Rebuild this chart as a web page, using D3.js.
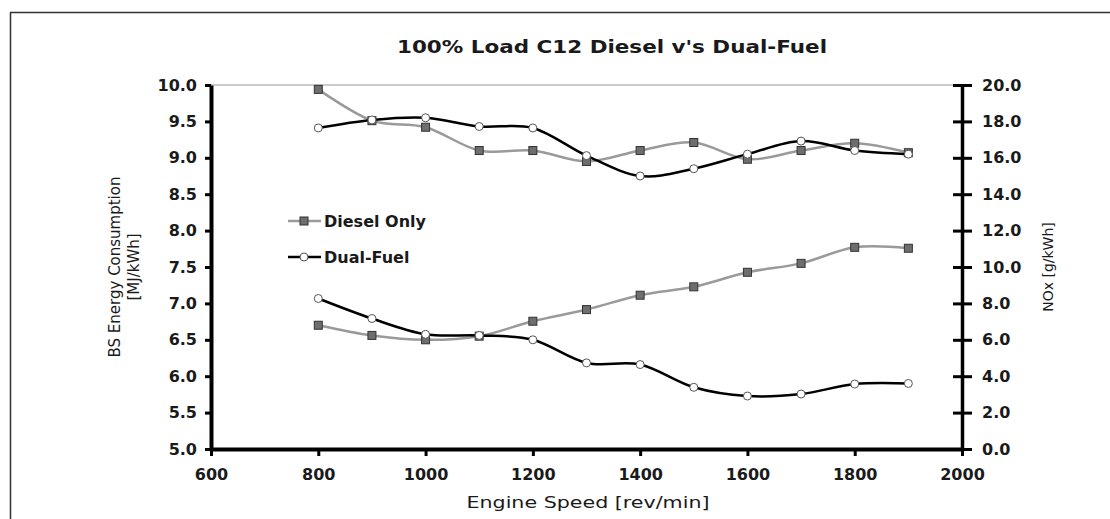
<!DOCTYPE html>
<html>
<head>
<meta charset="utf-8">
<script src="https://cdn.jsdelivr.net/npm/d3@7"></script>
<style>
  html, body { margin: 0; padding: 0; background: #fff; }
  svg { display: block; }
</style>
</head>
<body>
<svg id="chart" width="1110" height="519"></svg>
<script>
// ---- data ----
const speeds = [800, 900, 1000, 1100, 1200, 1300, 1400, 1500, 1600, 1700, 1800, 1900];
const dieselBSEC = [9.94, 9.51, 9.42, 9.10, 9.10, 8.95, 9.10, 9.21, 8.98, 9.10, 9.20, 9.07];
const dualBSEC   = [9.41, 9.52, 9.55, 9.43, 9.41, 9.03, 8.75, 8.85, 9.05, 9.23, 9.10, 9.05];
const dieselNOx  = [6.8, 6.24, 6.0, 6.2, 7.02, 7.66, 8.45, 8.91, 9.71, 10.2, 11.08, 11.03];
const dualNOx    = [8.27, 7.17, 6.30, 6.24, 6.0, 4.73, 4.64, 3.39, 2.91, 3.02, 3.57, 3.6];
const xTicks = [600, 800, 1000, 1200, 1400, 1600, 1800, 2000];
const yLeftTicks = [5.0, 5.5, 6.0, 6.5, 7.0, 7.5, 8.0, 8.5, 9.0, 9.5, 10.0];
const yRightTicks = [0, 2, 4, 6, 8, 10, 12, 14, 16, 18, 20];
const titleText = "100% Load C12 Diesel v's Dual-Fuel";
const xTitle = "Engine Speed [rev/min]";
const yLeftTitle = ["BS Energy Consumption", "[MJ/kWh]"];
const yRightTitle = "NOx [g/kWh]";
const legendLabels = ["Diesel Only", "Dual-Fuel"];

const svg = d3.select("#chart");
const L = 211, R = 962, T = 85, B = 449;
const x = d3.scaleLinear().domain([600, 2000]).range([L, R]);
const yL = d3.scaleLinear().domain([5, 10]).range([B, T]);
const yR = d3.scaleLinear().domain([0, 20]).range([B, T]);

const boldFont = "'DejaVu Sans', sans-serif";
const txtCol = "#1a1a1a";

// outer frame
svg.append("line").attr("x1", 10).attr("x2", 1110).attr("y1", 12.5).attr("y2", 12.5)
  .attr("stroke", "#333").attr("stroke-width", 1.5);
svg.append("line").attr("x1", 10.5).attr("x2", 10.5).attr("y1", 12).attr("y2", 519)
  .attr("stroke", "#333").attr("stroke-width", 1.5);

// plot top border
svg.append("line").attr("x1", L).attr("x2", R).attr("y1", T).attr("y2", T)
  .attr("stroke", "#999").attr("stroke-width", 1.2);

// title
svg.append("text").attr("x", 612).attr("y", 53).attr("text-anchor", "middle")
  .attr("font-family", boldFont).attr("font-weight", "bold").attr("font-size", 17)
  .attr("fill", txtCol).attr("textLength", 430).attr("lengthAdjust", "spacingAndGlyphs")
  .text(titleText);

function styleAxis(g, w) {
  g.select(".domain").attr("stroke", "#000").attr("stroke-width", w);
  g.selectAll(".tick line").attr("stroke", "#000").attr("stroke-width", 3);
  g.selectAll(".tick text").attr("font-family", boldFont).attr("font-weight", "bold")
    .attr("font-size", 16).attr("fill", txtCol);
}

// x axis
const gx = svg.append("g").attr("transform", `translate(0,${B})`)
  .call(d3.axisBottom(x).tickValues(xTicks).tickFormat(d3.format("d"))
    .tickSizeInner(7).tickSizeOuter(0).tickPadding(13));
styleAxis(gx, 4);

// left axis
const gl = svg.append("g").attr("transform", `translate(${L},0)`)
  .call(d3.axisLeft(yL).tickValues(yLeftTicks).tickFormat(d3.format(".1f"))
    .tickSizeInner(6).tickSizeOuter(0).tickPadding(8));
styleAxis(gl, 4);

// right axis
const gr = svg.append("g").attr("transform", `translate(${R},0)`)
  .call(d3.axisRight(yR).tickValues(yRightTicks).tickFormat(d3.format(".1f"))
    .tickSizeInner(10).tickSizeOuter(0).tickPadding(10));
styleAxis(gr, 3.5);
gr.selectAll(".tick line").attr("x1", -9);

// axis titles
svg.append("text").attr("x", 588).attr("y", 508).attr("text-anchor", "middle")
  .attr("font-family", boldFont).attr("font-size", 15).attr("fill", txtCol)
  .attr("textLength", 243).attr("lengthAdjust", "spacingAndGlyphs")
  .text(xTitle);

const ylt = svg.append("text").attr("transform", `translate(120,267) rotate(-90)`)
  .attr("text-anchor", "middle").attr("font-family", boldFont).attr("font-size", 15)
  .attr("fill", txtCol);
ylt.append("tspan").attr("x", 0).attr("dy", 0).text(yLeftTitle[0]);
ylt.append("tspan").attr("x", 0).attr("dy", 19).text(yLeftTitle[1]);

svg.append("text").attr("transform", `translate(1053,267) rotate(-90)`)
  .attr("text-anchor", "middle").attr("font-family", boldFont).attr("font-size", 14)
  .attr("fill", txtCol).text(yRightTitle);

// series
const curve = d3.curveCatmullRom.alpha(0);
const series = [
  { vals: dieselBSEC, y: yL, kind: "diesel" },
  { vals: dualBSEC,   y: yL, kind: "dual" },
  { vals: dieselNOx,  y: yR, kind: "diesel" },
  { vals: dualNOx,    y: yR, kind: "dual" }
];
const styles = {
  diesel: { stroke: "#9a9a9a", width: 2.5 },
  dual:   { stroke: "#000",    width: 2.5 }
};

series.forEach(s => {
  const pts = speeds.map((sp, i) => [sp, s.vals[i]]);
  const line = d3.line().x(d => x(d[0])).y(d => s.y(d[1])).curve(curve);
  svg.append("path").datum(pts).attr("d", line).attr("fill", "none")
    .attr("stroke", styles[s.kind].stroke).attr("stroke-width", styles[s.kind].width);
});

function drawMarker(g, kind, cx, cy) {
  if (kind === "diesel") {
    g.append("rect").attr("x", cx - 4).attr("y", cy - 4).attr("width", 8).attr("height", 8)
      .attr("fill", "#6e6e6e").attr("stroke", "#333").attr("stroke-width", 1);
  } else {
    g.append("circle").attr("cx", cx).attr("cy", cy).attr("r", 4)
      .attr("fill", "#fff").attr("stroke", "#555").attr("stroke-width", 1);
  }
}

series.forEach(s => {
  const g = svg.append("g");
  speeds.forEach((sp, i) => drawMarker(g, s.kind, x(sp), s.y(s.vals[i])));
});

// legend
const legY = [221, 257];
["diesel", "dual"].forEach((k, i) => {
  const g = svg.append("g");
  g.append("line").attr("x1", 288).attr("x2", 321).attr("y1", legY[i]).attr("y2", legY[i])
    .attr("stroke", styles[k].stroke).attr("stroke-width", 2.5);
  drawMarker(g, k, 304, legY[i]);
  g.append("text").attr("x", 324).attr("y", legY[i] + 6)
    .attr("font-family", boldFont).attr("font-weight", "bold").attr("font-size", 16)
    .attr("fill", txtCol).text(legendLabels[i]);
});
</script>
</body>
</html>
